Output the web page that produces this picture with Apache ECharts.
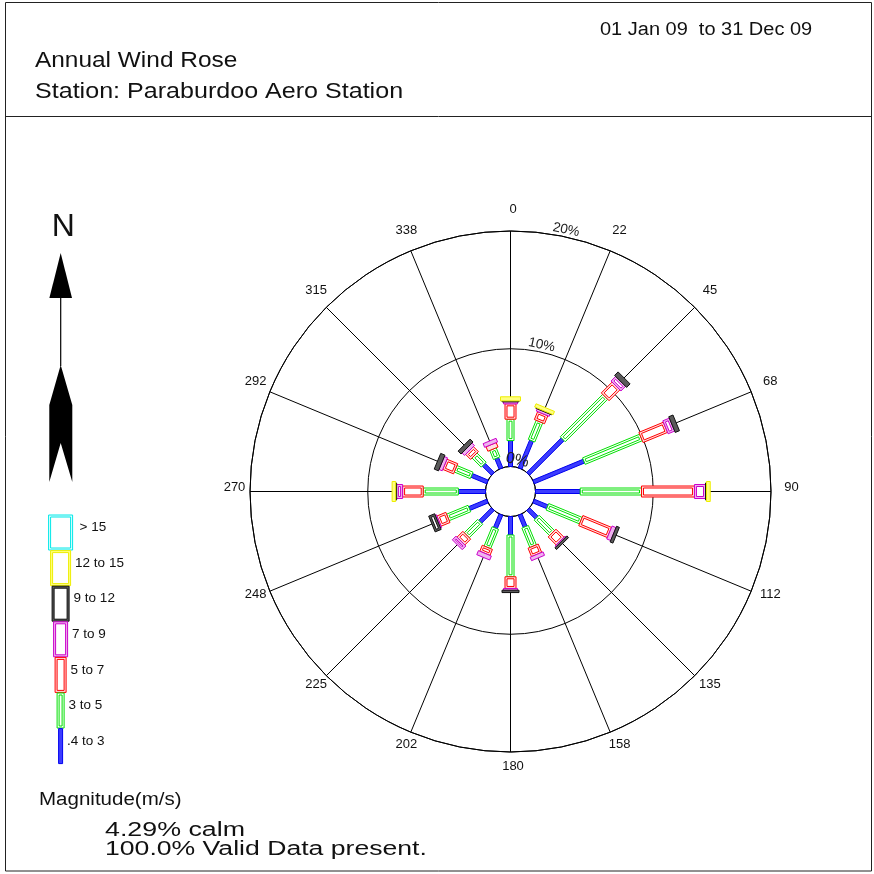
<!DOCTYPE html>
<html>
<head>
<meta charset="utf-8">
<script src="https://cdn.jsdelivr.net/npm/echarts@6/dist/echarts.min.js"></script>
<style>
html, body { margin: 0; padding: 0; background: #ffffff; }
#chart { width: 874px; height: 874px; }
</style>
</head>
<body>
<div id="chart"></div>
<script>
// ---- wind rose data (percent of all hours, per direction, per speed class) ----
const directionLabels = ['0', '22', '45', '68', '90', '112', '135', '158', '180', '202', '225', '248', '270', '292', '315', '338'];
const directionAngles = [0, 22.5, 45, 67.5, 90, 112.5, 135, 157.5, 180, 202.5, 225, 247.5, 270, 292.5, 315, 337.5];
const speedClasses = ['.4 to 3', '3 to 5', '5 to 7', '7 to 9', '9 to 12', '12 to 15', '> 15'];

const pct_04_3  = [2.20, 2.55, 4.15, 4.62, 3.80, 1.27, 1.02, 1.12, 1.57, 1.24, 1.52, 1.66, 2.31, 1.45, 1.10, 0.94];
const pct_3_5   = [1.82, 1.75, 5.10, 5.25, 5.20, 3.07, 1.85, 1.78, 3.55, 1.77, 1.61, 1.97, 2.98, 1.47, 1.10, 0.83];
const pct_5_7   = [1.30, 0.73, 1.30, 2.25, 4.50, 2.63, 0.96, 0.77, 0.99, 0.55, 0.70, 0.82, 1.75, 0.99, 0.60, 0.41];
const pct_7_9   = [0.17, 0.20, 0.55, 0.60, 0.94, 0.36, 0.10, 0.32, 0.15, 0.37, 0.44, 0.10, 0.51, 0.29, 0.30, 0.34];
const pct_9_12  = [0.08, 0.06, 0.42, 0.39, 0.08, 0.26, 0.20, 0.00, 0.20, 0.00, 0.00, 0.55, 0.08, 0.39, 0.35, 0.00];
const pct_12_15 = [0.35, 0.30, 0.00, 0.00, 0.32, 0.00, 0.00, 0.00, 0.00, 0.00, 0.00, 0.00, 0.30, 0.00, 0.00, 0.00];
const pct_gt15  = [0, 0, 0, 0, 0, 0, 0, 0, 0, 0, 0, 0, 0, 0, 0, 0];

const ringTicks = [0, 10, 20];
const calmPct = '4.29';
const validPct = '100.0';
const periodText = '01 Jan 09  to 31 Dec 09';
const titleText = 'Annual Wind Rose';
const stationText = 'Station: Paraburdoo Aero Station';

// ---- drawing styles ----
const classStyle = [
  { w: 4,  color: '#0000f0', tint: '#3c3cff', inner: false },
  { w: 7,  color: '#00e000', tint: '#ffffff', inner: true },
  { w: 11, color: '#ff0000', tint: '#ffe0e0', inner: true },
  { w: 14, color: '#cc00cc', tint: '#eeb4ee', inner: true },
  { w: 17, color: '#101010', tint: '#5a5a5a', inner: true },
  { w: 20, color: '#eeee00', tint: '#ffff80', inner: true },
  { w: 24, color: '#00e8e8', tint: '#e0ffff', inner: true }
];
const FONT = '"Liberation Sans", Arial, sans-serif';
const INK = '#111111';

const classArrays = [pct_04_3, pct_3_5, pct_5_7, pct_7_9, pct_9_12, pct_12_15, pct_gt15];

// stacked segments: [start %, angle, end %, class index]
const segments = [];
directionAngles.forEach((ang, d) => {
  let cum = 0;
  classArrays.forEach((arr, c) => {
    const v = arr[d];
    if (v > 0) segments.push([cum, ang, cum + v, c]);
    cum += v;
  });
});

function rectPoints(a, b, half, nx, ny) {
  return [
    [a[0] + nx * half, a[1] + ny * half],
    [b[0] + nx * half, b[1] + ny * half],
    [b[0] - nx * half, b[1] - ny * half],
    [a[0] - nx * half, a[1] - ny * half]
  ];
}

function renderSegment(params, api) {
  const r0 = api.value(0), ang = api.value(1), r1 = api.value(2), cls = api.value(3);
  const p0 = api.coord([r0, ang]);
  const p1 = api.coord([r1, ang]);
  const dx = p1[0] - p0[0], dy = p1[1] - p0[1];
  const len = Math.hypot(dx, dy);
  if (len < 0.3) return null;
  const ux = dx / len, uy = dy / len, nx = -uy, ny = ux;
  const st = classStyle[cls];
  const children = [{
    type: 'polygon',
    shape: { points: rectPoints(p0, p1, st.w / 2, nx, ny) },
    style: { fill: st.tint, stroke: st.color, lineWidth: 1 }
  }];
  const ins = 2;
  if (st.inner && len > 2 * ins + 1) {
    const a = [p0[0] + ux * ins, p0[1] + uy * ins];
    const b = [p1[0] - ux * ins, p1[1] - uy * ins];
    children.push({
      type: 'polygon',
      shape: { points: rectPoints(a, b, st.w / 2 - ins, nx, ny) },
      style: { fill: '#ffffff', stroke: st.color, lineWidth: 1 }
    });
  }
  return { type: 'group', children: children };
}

function renderDirLabel(params, api) {
  const ang = api.value(1), idx = api.value(2);
  const p = api.coord([api.value(0), ang]);
  const cs = params.coordSys;
  const dx = p[0] - cs.cx, dy = p[1] - cs.cy;
  const l = Math.hypot(dx, dy);
  const off = 18;
  return {
    type: 'text',
    x: p[0] + dx / l * off + 2.5,
    y: p[1] + dy / l * off - 4,
    style: { text: directionLabels[idx], fill: INK, font: '13px ' + FONT, align: 'center', verticalAlign: 'middle' }
  };
}

const ringLabelAngle = 12;
function renderRingLabel(params, api) {
  const v = api.value(0), ang = api.value(1);
  const p = api.coord([v, ang]);
  const cs = params.coordSys;
  const dx = p[0] - cs.cx, dy = p[1] - cs.cy;
  const l = Math.hypot(dx, dy);
  const off = 7;
  return {
    type: 'text',
    x: p[0] + dx / l * off,
    y: p[1] + dy / l * off,
    rotation: -ang * Math.PI / 180,
    style: { text: v + '%', fill: '#222222', font: (v === 0 ? '16px ' : '13.5px ') + FONT, align: 'center', verticalAlign: 'middle' }
  };
}

// ---- legend key and page furniture ----
const legendCx = 60.6, legendTop = 515, legendStep = 35.6;
const graphics = [];
function caption(text, x, y, size, stretch) {
  return { type: 'text', x: x, y: y, scaleX: stretch, style: { text: text, fill: INK, font: size + 'px ' + FONT, verticalAlign: 'middle' } };
}
graphics.push({ type: 'rect', shape: { x: 5.5, y: 2.5, width: 866, height: 868.5 }, style: { fill: 'none', stroke: '#222', lineWidth: 1 } });
graphics.push({ type: 'line', shape: { x1: 5.5, y1: 116.5, x2: 871.5, y2: 116.5 }, style: { stroke: '#222', lineWidth: 1 } });
graphics.push(caption(periodText, 600, 30, 18, 1.11));
graphics.push(caption(titleText, 35, 61, 22, 1.11));
graphics.push(caption(stationText, 35, 92, 22, 1.14));
graphics.push({ type: 'text', x: 63.3, y: 227, style: { text: 'N', fill: INK, font: '32px ' + FONT, align: 'center', verticalAlign: 'middle' } });
// north arrow
graphics.push({ type: 'polygon', shape: { points: [[60.7, 253], [72, 298], [49.4, 298]] }, style: { fill: '#000' } });
graphics.push({ type: 'line', shape: { x1: 60.7, y1: 297, x2: 60.7, y2: 366 }, style: { stroke: '#000', lineWidth: 1.2 } });
graphics.push({ type: 'polygon', shape: { points: [[60.7, 365], [72.3, 405], [72.3, 482], [60.7, 443], [49.3, 482], [49.3, 405]] }, style: { fill: '#000' } });

for (let i = speedClasses.length - 1; i >= 0; i--) {
  const st = classStyle[i];
  const row = speedClasses.length - 1 - i;
  const y = legendTop + row * legendStep;
  const x = legendCx - st.w / 2;
  graphics.push({ type: 'rect', shape: { x: x, y: y, width: st.w, height: legendStep - 0.6 }, style: { fill: st.tint, stroke: st.color, lineWidth: 1 } });
  if (st.inner) {
    graphics.push({ type: 'rect', shape: { x: x + 2, y: y + 2, width: st.w - 4, height: legendStep - 4.6 }, style: { fill: '#ffffff', stroke: st.color, lineWidth: 1 } });
  }
  graphics.push({ type: 'text', x: x + st.w + (i === 6 ? 7 : 4.5), y: y + 12.5, style: { text: speedClasses[i], fill: INK, font: '13.5px ' + FONT, verticalAlign: 'middle' } });
}
graphics.push(caption('Magnitude(m/s)', 39, 800, 18, 1.14));
graphics.push(caption(calmPct + '% calm', 105, 830, 20, 1.34));
graphics.push(caption(validPct + '% Valid Data present.', 105, 849, 20, 1.33));

const chart = echarts.init(document.getElementById('chart'), null, { renderer: 'canvas' });
chart.setOption({
  backgroundColor: '#ffffff',
  animation: false,
  polar: { center: [510.5, 491.5], radius: [25, 260.5] },
  angleAxis: {
    type: 'value', min: 0, max: 360, interval: 22.5, startAngle: 90, clockwise: true,
    axisLine: { show: true, lineStyle: { color: '#000', width: 1 } },
    axisTick: { show: false },
    axisLabel: { show: false },
    splitLine: { show: true, lineStyle: { color: '#000', width: 1 } }
  },
  radiusAxis: {
    type: 'value', min: 0, max: 20, interval: 10,
    axisLine: { show: false }, axisTick: { show: false }, axisLabel: { show: false },
    splitLine: { show: true, lineStyle: { color: '#000', width: 1 } }
  },
  series: [
    { type: 'custom', coordinateSystem: 'polar', renderItem: renderSegment, data: segments, silent: true, z: 3 },
    { type: 'custom', coordinateSystem: 'polar', renderItem: renderDirLabel,
      data: directionAngles.map((a, i) => [20, a, i]), silent: true, z: 4 },
    { type: 'custom', coordinateSystem: 'polar', renderItem: renderRingLabel,
      data: ringTicks.map(t => [t, ringLabelAngle]), silent: true, z: 5 }
  ],
  graphic: graphics
});
</script>
</body>
</html>
